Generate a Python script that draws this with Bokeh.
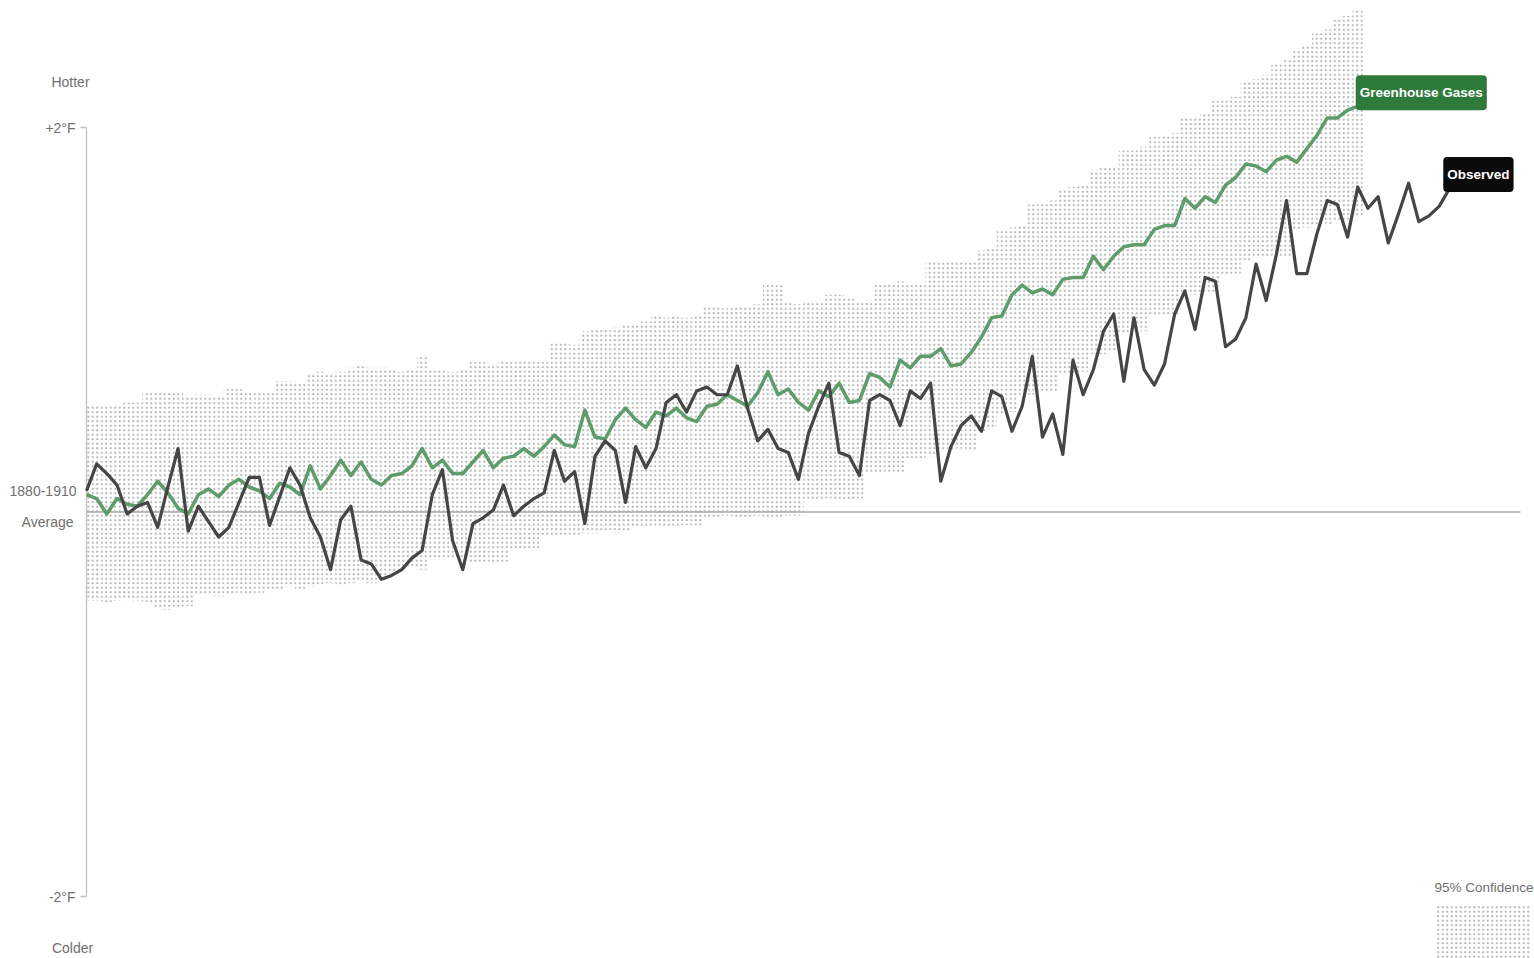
import numpy as np
from bokeh.plotting import figure
from bokeh.models import Label, BoxAnnotation
from bokeh.core.properties import value
from bokeh.embed import file_html
from bokeh.resources import INLINE

# ---------------------------------------------------------------------------
# Data: temperature relative to the 1880-1910 average, degrees Fahrenheit
# ---------------------------------------------------------------------------
FIRST_YEAR = 1880

# Observed annual temperature, 1880-2014
OBSERVED = [
    0.11, 0.25, 0.20, 0.14, -0.01, 0.03, 0.05, -0.08, 0.13, 0.33,      # 1880s
    -0.10, 0.03, -0.05, -0.13, -0.08, 0.05, 0.18, 0.18, -0.07, 0.08,   # 1890s
    0.23, 0.14, -0.03, -0.13, -0.30, -0.04, 0.03, -0.25, -0.27, -0.35,  # 1900s
    -0.33, -0.30, -0.24, -0.20, 0.09, 0.22, -0.15, -0.30, -0.06, -0.03,  # 1910s
    0.01, 0.14, -0.02, 0.03, 0.07, 0.10, 0.32, 0.16, 0.21, -0.06,      # 1920s
    0.29, 0.37, 0.32, 0.05, 0.34, 0.23, 0.33, 0.57, 0.61, 0.52,        # 1930s
    0.63, 0.65, 0.61, 0.61, 0.76, 0.54, 0.37, 0.43, 0.33, 0.31,        # 1940s
    0.17, 0.41, 0.55, 0.67, 0.31, 0.29, 0.19, 0.58, 0.61, 0.58,        # 1950s
    0.45, 0.63, 0.59, 0.67, 0.16, 0.34, 0.45, 0.50, 0.42, 0.63,        # 1960s
    0.60, 0.42, 0.55, 0.81, 0.39, 0.51, 0.30, 0.79, 0.61, 0.74,        # 1970s
    0.94, 1.03, 0.68, 1.01, 0.74, 0.66, 0.77, 1.03, 1.15, 0.95,        # 1980s
    1.22, 1.20, 0.86, 0.90, 1.01, 1.29, 1.10, 1.34, 1.62, 1.24,        # 1990s
    1.24, 1.45, 1.62, 1.60, 1.43, 1.69, 1.58, 1.64, 1.40, 1.55,        # 2000s
    1.71, 1.51, 1.54, 1.59, 1.68,                                      # 2010s
]

# Model response to greenhouse gases, 1880-2005
GREENHOUSE = [
    0.09, 0.07, -0.01, 0.07, 0.04, 0.03, 0.09, 0.16, 0.10, 0.02,
    -0.01, 0.09, 0.12, 0.08, 0.14, 0.17, 0.13, 0.11, 0.07, 0.15,
    0.13, 0.09, 0.24, 0.12, 0.19, 0.27, 0.19, 0.26, 0.17, 0.14,
    0.19, 0.20, 0.24, 0.33, 0.23, 0.27, 0.20, 0.20, 0.26, 0.32,
    0.23, 0.28, 0.29, 0.33, 0.29, 0.34, 0.40, 0.35, 0.34, 0.53,
    0.39, 0.38, 0.48, 0.54, 0.48, 0.44, 0.52, 0.50, 0.54, 0.49,
    0.47, 0.55, 0.56, 0.61, 0.58, 0.55, 0.62, 0.73, 0.61, 0.64,
    0.57, 0.53, 0.63, 0.60, 0.67, 0.57, 0.58, 0.72, 0.70, 0.65,
    0.79, 0.75, 0.81, 0.81, 0.85, 0.76, 0.77, 0.83, 0.91, 1.01,
    1.02, 1.13, 1.18, 1.14, 1.16, 1.13, 1.21, 1.22, 1.22, 1.33,
    1.26, 1.33, 1.38, 1.39, 1.39, 1.47, 1.49, 1.49, 1.63, 1.58,
    1.64, 1.61, 1.70, 1.74, 1.81, 1.80, 1.77, 1.83, 1.85, 1.82,
    1.89, 1.96, 2.05, 2.05, 2.09, 2.11,
]

# 95% confidence range of the model, 1880-2005
BAND_LOW = [
    -0.46, -0.46, -0.47, -0.46, -0.45, -0.46, -0.47, -0.50, -0.51, -0.50,
    -0.49, -0.43, -0.43, -0.44, -0.43, -0.42, -0.43, -0.42, -0.40, -0.40,
    -0.39, -0.40, -0.39, -0.38, -0.37, -0.38, -0.37, -0.36, -0.37, -0.36,
    -0.32, -0.30, -0.29, -0.30, -0.25, -0.25, -0.24, -0.25, -0.26, -0.26,
    -0.27, -0.26, -0.20, -0.20, -0.19, -0.13, -0.13, -0.12, -0.13, -0.11,
    -0.11, -0.10, -0.11, -0.10, -0.08, -0.08, -0.07, -0.08, -0.08, -0.07,
    -0.07, -0.03, -0.03, -0.02, -0.03, -0.03, -0.02, -0.03, -0.03, -0.02,
    -0.02, 0.06, 0.06, 0.07, 0.06, 0.06, 0.07, 0.20, 0.20, 0.21,
    0.20, 0.28, 0.28, 0.29, 0.32, 0.32, 0.33, 0.32, 0.42, 0.43,
    0.51, 0.52, 0.61, 0.61, 0.62, 0.62, 0.72, 0.72, 0.73, 0.82,
    0.82, 0.83, 0.93, 0.93, 0.94, 1.02, 1.02, 1.03, 1.13, 1.13,
    1.14, 1.14, 1.23, 1.23, 1.31, 1.32, 1.32, 1.33, 1.33, 1.47,
    1.48, 1.49, 1.50, 1.51, 1.52, 1.53,
]
BAND_HIGH = [
    0.56, 0.56, 0.55, 0.56, 0.57, 0.57, 0.63, 0.63, 0.62, 0.62,
    0.60, 0.61, 0.61, 0.60, 0.64, 0.64, 0.63, 0.62, 0.62, 0.68,
    0.68, 0.67, 0.72, 0.73, 0.72, 0.73, 0.75, 0.76, 0.75, 0.75,
    0.74, 0.73, 0.74, 0.81, 0.74, 0.74, 0.73, 0.74, 0.78, 0.78,
    0.77, 0.78, 0.78, 0.79, 0.78, 0.78, 0.88, 0.88, 0.87, 0.94,
    0.95, 0.95, 0.96, 0.98, 0.98, 0.99, 1.02, 1.01, 1.02, 1.01,
    1.02, 1.07, 1.07, 1.06, 1.07, 1.07, 1.08, 1.19, 1.18, 1.09,
    1.08, 1.09, 1.09, 1.13, 1.13, 1.12, 1.09, 1.10, 1.19, 1.19,
    1.20, 1.19, 1.19, 1.30, 1.31, 1.30, 1.30, 1.31, 1.36, 1.37,
    1.47, 1.48, 1.49, 1.60, 1.61, 1.62, 1.68, 1.69, 1.70, 1.78,
    1.79, 1.80, 1.88, 1.88, 1.90, 1.95, 1.96, 1.97, 2.05, 2.06,
    2.07, 2.14, 2.15, 2.16, 2.24, 2.25, 2.27, 2.34, 2.36, 2.41,
    2.43, 2.49, 2.51, 2.56, 2.58, 2.62,
]

Y_TICKS = [2, -2]
Y_TICK_LABELS = ["+2°F", "-2°F"]
BASELINE_END_YEAR = 2021

obs_years = np.arange(FIRST_YEAR, FIRST_YEAR + len(OBSERVED))
ghg_years = np.arange(FIRST_YEAR, FIRST_YEAR + len(GREENHOUSE))

# ---------------------------------------------------------------------------
# Layout and style
# ---------------------------------------------------------------------------
W, H = 1534, 958
PX_PER_YEAR = 10.17
PX_PER_DEG = 192.25
LEFT_PAD = 86          # room for the temperature labels left of 1880
ZERO_FROM_TOP = 511.5  # position of the baseline measured from the top

x_start = FIRST_YEAR - LEFT_PAD / PX_PER_YEAR
x_end = x_start + W / PX_PER_YEAR
y_end = ZERO_FROM_TOP / PX_PER_DEG
y_start = y_end - H / PX_PER_DEG

FONT = "Liberation Sans"
LABEL_SIZE = "14px"
LABEL_GREY = "#707070"
AXIS_GREY = "#c2c2c2"
DOT_GREY = "#b2b8b2"
GHG_LINE = "#5f9c6c"
GHG_TAG = "#2e7a3b"
OBS_LINE = "#454545"
OBS_TAG = "#0b0b0b"

p = figure(
    width=W, height=H,
    x_range=(x_start, x_end), y_range=(y_start, y_end),
    x_axis_location=None, y_axis_location=None,
    toolbar_location=None, output_backend="svg",
    min_border=0, outline_line_color=None,
    background_fill_color="white", border_fill_color="white",
)
p.grid.visible = False

# stippled confidence band, one column per model year
band_left = np.maximum(ghg_years - 0.5, FIRST_YEAR)
band_right = ghg_years + 0.5
p.quad(left=band_left, right=band_right, bottom=BAND_LOW, top=BAND_HIGH,
       fill_color=None, line_color=None,
       hatch_pattern="dot", hatch_color=DOT_GREY, hatch_scale=4.5, hatch_weight=1)

# 1880-1910 average baseline
p.segment(x0=[FIRST_YEAR], y0=[0], x1=[BASELINE_END_YEAR], y1=[0],
          line_color="#a9a9a9", line_width=1.5)

# temperature axis with ticks only at the extremes
tick_len = 6 / PX_PER_YEAR
p.segment(x0=[FIRST_YEAR], y0=[min(Y_TICKS)], x1=[FIRST_YEAR], y1=[max(Y_TICKS)],
          line_color=AXIS_GREY, line_width=1.3)
p.segment(x0=[FIRST_YEAR - tick_len] * len(Y_TICKS), y0=Y_TICKS,
          x1=[FIRST_YEAR] * len(Y_TICKS), y1=Y_TICKS,
          line_color=AXIS_GREY, line_width=1.3)
p.text(x=[FIRST_YEAR] * len(Y_TICKS), y=Y_TICKS, text=Y_TICK_LABELS,
       x_offset=-11, text_align="right", text_baseline="middle",
       text_font=value(FONT), text_font_size=LABEL_SIZE, text_color=LABEL_GREY)

# series
p.line(ghg_years, GREENHOUSE, line_color=GHG_LINE, line_width=3.5, line_join="round")
p.line(obs_years, OBSERVED, line_color=OBS_LINE, line_width=3.2, line_join="round")


def side_label(text, y, dx, dy, align="right"):
    p.add_layout(Label(x=FIRST_YEAR, y=y, x_offset=dx, y_offset=dy, text=text,
                       text_align=align, text_baseline="middle",
                       text_font=FONT, text_font_size=LABEL_SIZE, text_color=LABEL_GREY))


side_label("Hotter", max(Y_TICKS), -16, 46, "center")
side_label("Colder", min(Y_TICKS), -14, -51, "center")
side_label("1880-1910", 0, -10, 21)
side_label("Average", 0, -13, -10)


def end_tag(text, x, y, color, dx, dy):
    p.add_layout(Label(x=x, y=y, x_offset=dx, y_offset=dy, text=text,
                       text_align="left", text_baseline="bottom",
                       text_font=FONT, text_font_size="13.5px", text_font_style="bold",
                       text_color="white", background_fill_color=color,
                       padding=(4, 10), border_radius=4))


end_tag("Greenhouse Gases", ghg_years[-1], GREENHOUSE[-1], GHG_TAG, -2, -4)
end_tag("Observed", obs_years[-1], OBSERVED[-1], OBS_TAG, -6, -3)

# key for the stippled band
p.add_layout(BoxAnnotation(left=1435, right=1530, bottom=0, top=53,
                           left_units="screen", right_units="screen",
                           bottom_units="screen", top_units="screen",
                           fill_alpha=0, line_alpha=0,
                           hatch_pattern="dot", hatch_color=DOT_GREY,
                           hatch_scale=4.5, hatch_weight=1))
p.add_layout(Label(x=1533, y=71, x_units="screen", y_units="screen",
                   text="95% Confidence", text_align="right", text_baseline="middle",
                   text_font=FONT, text_font_size="13.5px", text_color=LABEL_GREY))

open("out.html", "w").write(file_html(p, INLINE))
